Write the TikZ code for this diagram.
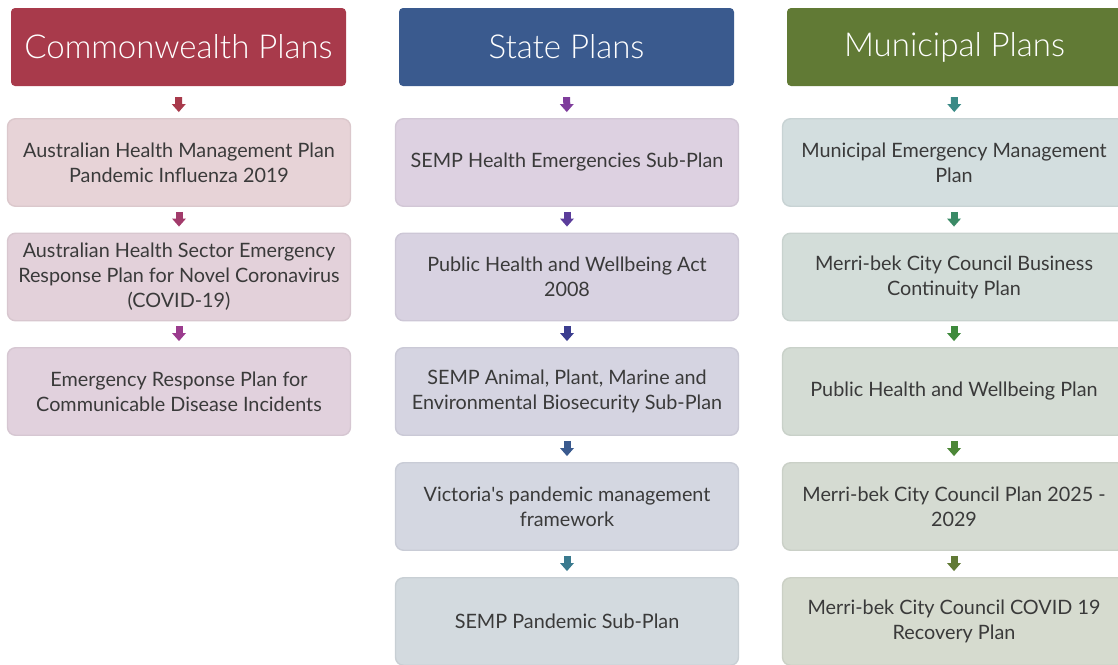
\documentclass[tikz,border=0pt]{standalone}
\usepackage{fontspec}
\setmainfont{Lato}
\newfontfamily\headfont{Lato Light}
\usetikzlibrary{arrows.meta}

% header colours
\definecolor{cwred}{HTML}{A83A4B}
\definecolor{stblue}{HTML}{3A5A8E}
\definecolor{mugreen}{HTML}{617A35}
\definecolor{textgray}{HTML}{3A3A3A}
% box fills
\definecolor{fa1}{HTML}{E7D3D7}
\definecolor{fa2}{HTML}{E3D1DA}
\definecolor{fa3}{HTML}{E1D1DD}
\definecolor{fb1}{HTML}{DDD1E1}
\definecolor{fb2}{HTML}{D8D2E1}
\definecolor{fb3}{HTML}{D5D4E1}
\definecolor{fb4}{HTML}{D4D7E1}
\definecolor{fb5}{HTML}{D3DADF}
\definecolor{fc1}{HTML}{D3DEDF}
\definecolor{fc2}{HTML}{D3DDD9}
\definecolor{fc3}{HTML}{D4DCD4}
\definecolor{fc4}{HTML}{D5DBD2}
\definecolor{fc5}{HTML}{D6DBCF}
% connector colours
\definecolor{aa1}{HTML}{A83A4B}
\definecolor{aa2}{HTML}{A23B6B}
\definecolor{aa3}{HTML}{9B3C8E}
\definecolor{ab1}{HTML}{7F3D9C}
\definecolor{ab2}{HTML}{5B3D9B}
\definecolor{ab3}{HTML}{3B3D8F}
\definecolor{ab4}{HTML}{3A5A8E}
\definecolor{ab5}{HTML}{3A7A8E}
\definecolor{ac1}{HTML}{3A8A86}
\definecolor{ac2}{HTML}{3A8A66}
\definecolor{ac3}{HTML}{3E8A3C}
\definecolor{ac4}{HTML}{4C8737}
\definecolor{ac5}{HTML}{617A35}

\begin{document}
\begin{tikzpicture}[x=1pt,y=-1pt,
  headbox/.style={fill=#1, rounded corners=4pt, minimum width=335pt,
    minimum height=78pt, inner sep=0pt, text=white,
    font=\headfont\fontsize{33}{38}\selectfont},
  planbox/.style={fill=#1, draw=#1!95!black, line width=1.4pt,
    rounded corners=8pt, minimum width=343pt, minimum height=87.5pt,
    inner sep=0pt, align=center, text=textgray,
    font=\fontsize{19.8}{25}\selectfont},
  flow/.style={draw=#1, line width=7pt,
    -{Triangle[width=14pt,length=8pt,line width=0pt]}, shorten >=6pt},
  fromhead/.style={shorten <=11pt},
  frombox/.style={shorten <=5pt}
]
\useasboundingbox (0,0) rectangle (1118,664);
\clip (0,0) rectangle (1118,664);

% Commonwealth column
\node[headbox=cwred] (h1) at (178.5,47) {Commonwealth Plans};
\node[planbox=fa1] (a1) at (179,162.5) {Australian Health Management Plan\\Pandemic Influenza 2019};
\node[planbox=fa2] (a2) at (179,277) {Australian Health Sector Emergency\\Response Plan for Novel Coronavirus\\(COVID-19)};
\node[planbox=fa3] (a3) at (179,391.5) {Emergency Response Plan for\\Communicable Disease Incidents};

% State column
\node[headbox=stblue] (h2) at (566.5,47) {State Plans};
\node[planbox=fb1] (b1) at (567,162.5) {SEMP Health Emergencies Sub-Plan};
\node[planbox=fb2] (b2) at (567,277) {Public Health and Wellbeing Act\\2008};
\node[planbox=fb3] (b3) at (567,391.5) {SEMP Animal, Plant, Marine and\\Environmental Biosecurity Sub-Plan};
\node[planbox=fb4] (b4) at (567,506.5) {Victoria\textquotesingle s pandemic management\\framework};
\node[planbox=fb5] (b5) at (567,621.5) {SEMP Pandemic Sub-Plan};

% Municipal column
\node[headbox=mugreen] (h3) at (954.5,47) {Municipal Plans};
\node[planbox=fc1] (c1) at (954,162.5) {Municipal Emergency Management\\Plan};
\node[planbox=fc2] (c2) at (954,277) {Merri-bek City Council Business\\Continuity Plan};
\node[planbox=fc3] (c3) at (954,391.5) {Public Health and Wellbeing Plan};
\node[planbox=fc4] (c4) at (954,506.5) {Merri-bek City Council Plan 2025 -\\2029};
\node[planbox=fc5] (c5) at (954,621.5) {Merri-bek City Council COVID 19\\Recovery Plan};

% connectors
\draw[flow=aa1, fromhead] (h1) -- (a1);
\draw[flow=aa2, frombox] (a1) -- (a2);
\draw[flow=aa3, frombox] (a2) -- (a3);

\draw[flow=ab1, fromhead] (h2) -- (b1);
\draw[flow=ab2, frombox] (b1) -- (b2);
\draw[flow=ab3, frombox] (b2) -- (b3);
\draw[flow=ab4, frombox] (b3) -- (b4);
\draw[flow=ab5, frombox] (b4) -- (b5);

\draw[flow=ac1, fromhead] (h3) -- (c1);
\draw[flow=ac2, frombox] (c1) -- (c2);
\draw[flow=ac3, frombox] (c2) -- (c3);
\draw[flow=ac4, frombox] (c3) -- (c4);
\draw[flow=ac5, frombox] (c4) -- (c5);
\end{tikzpicture}
\end{document}
